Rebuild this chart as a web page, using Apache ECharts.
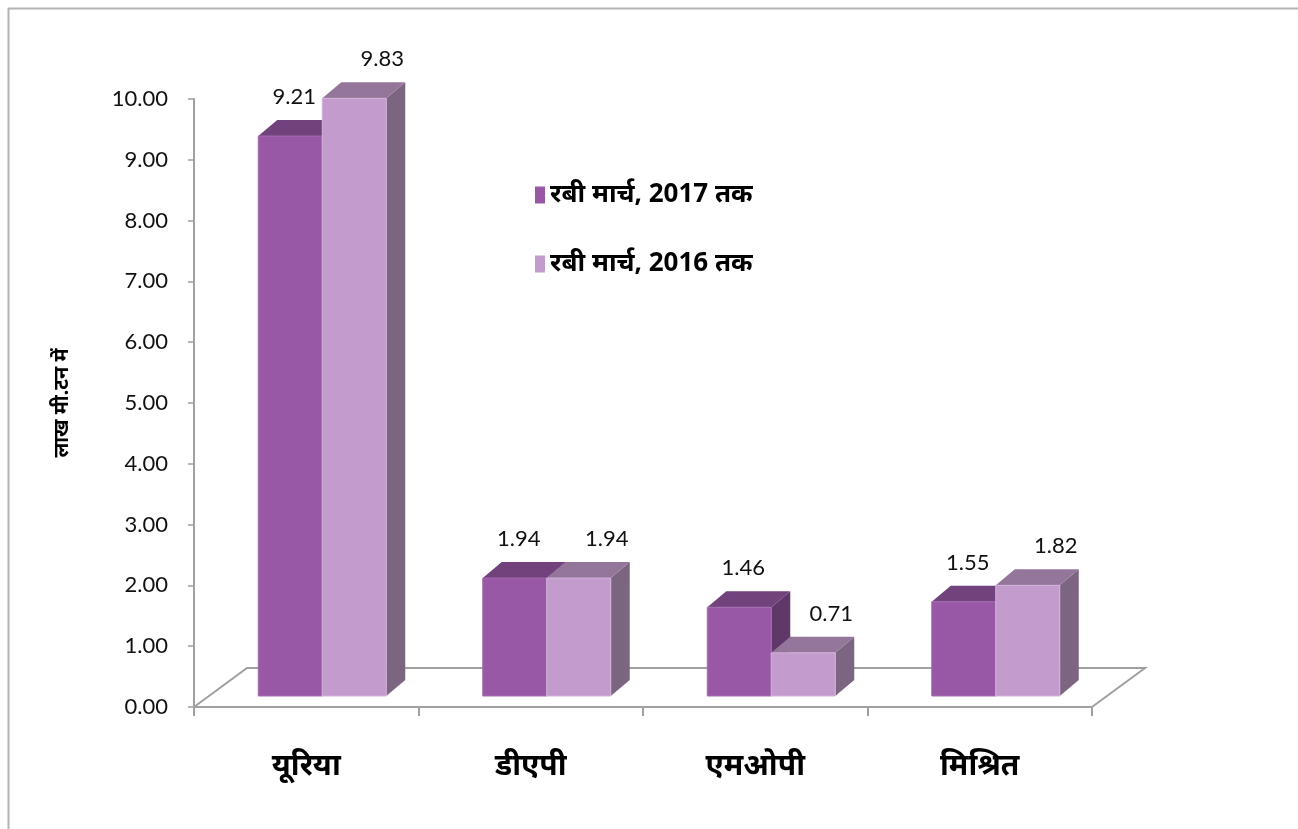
<!DOCTYPE html>
<html>
<head>
<meta charset="utf-8">
<script src="https://cdn.jsdelivr.net/npm/echarts@6/dist/echarts.min.js"></script>
<style>
html,body{margin:0;padding:0;background:#fff;}
#chart{width:1298px;height:829px;}
</style>
</head>
<body>
<div id="chart"></div>
<script>
// ---- data ----
var categories = ['यूरिया', 'डीएपी', 'एमओपी', 'मिश्रित'];
var seriesNames = ['रबी मार्च, 2017 तक', 'रबी मार्च, 2016 तक'];
var values2017 = [9.21, 1.94, 1.46, 1.55];
var values2016 = [9.83, 1.94, 0.71, 1.82];
var yTicks = [0, 1, 2, 3, 4, 5, 6, 7, 8, 9, 10];
var yAxisName = 'लाख मी.टन में';

// ---- styles ----
var palettes = [
  {front: '#9858a5', top: '#71427c', side: '#5f3869', edge: '#a46bb0', lblDx: 4},
  {front: '#c49bcd', top: '#94769b', side: '#7c6581', edge: '#d3b3da', lblDx: 28}
];
var GRID = {left: 194, top: 99, width: 898, height: 608};
var DEPTH_DX = 19, DEPTH_DY = -16, LIFT = 11;
var numFont = 'Lato, "Noto Sans", sans-serif';
var devFont = '"Noto Sans", "Lato", sans-serif';

function makeRender(idx) {
  var p = palettes[idx];
  return function (params, api) {
    var cat = api.value(0), v = api.value(1);
    var base = api.coord([cat, 0]);
    var top = api.coord([cat, v]);
    var bw = api.size([1, 0])[0];
    var barW = bw * 64 / 224.5;
    var x0 = base[0] - bw / 2 + bw * 64.25 / 224.5 + idx * barW;
    var yb = base[1] - LIFT, yt = top[1] - LIFT;
    var dx = DEPTH_DX, dy = DEPTH_DY;
    var x1 = x0 + barW;
    return {
      type: 'group',
      children: [
        {type: 'polygon', shape: {points: [[x1, yb], [x1 + dx, yb + dy], [x1 + dx, yt + dy], [x1, yt]]},
          style: {fill: p.side}},
        {type: 'polygon', shape: {points: [[x0, yt], [x0 + dx, yt + dy], [x1 + dx, yt + dy], [x1, yt]]},
          style: {fill: p.top}},
        {type: 'rect', shape: {x: x0, y: yt, width: barW, height: yb - yt},
          style: {fill: p.front, stroke: p.edge, lineWidth: 1}},
        {type: 'text', style: {text: v.toFixed(2), x: x0 + barW / 2 + p.lblDx, y: yt - 39,
          align: 'center', verticalAlign: 'middle', fontSize: 22, fontFamily: numFont, fill: '#111'}}
      ]
    };
  };
}

function seriesData(vals) {
  return vals.map(function (v, i) { return [i, v]; });
}

var chart = echarts.init(document.getElementById('chart'), null, {renderer: 'canvas'});

var gL = GRID.left, gB = GRID.top + GRID.height;
var floorDx = 53, floorDy = -39;

var option = {
  animation: false,
  backgroundColor: '#ffffff',
  grid: {left: GRID.left, top: GRID.top, width: GRID.width, height: GRID.height},
  legend: {
    orient: 'vertical',
    left: 530, top: 177,
    itemWidth: 10, itemHeight: 17, itemGap: 43,
    icon: 'rect',
    data: seriesNames,
    textStyle: {fontSize: 26, fontWeight: 'bold', color: '#000', fontFamily: devFont}
  },
  xAxis: {
    type: 'category',
    data: categories,
    axisLine: {show: true, lineStyle: {color: '#a0a0a0', width: 2}},
    axisTick: {show: true, length: 9, alignWithLabel: false, lineStyle: {color: '#a0a0a0', width: 2}},
    axisLabel: {margin: 44, fontSize: 30, fontWeight: 'bold', color: '#000', fontFamily: devFont},
    splitLine: {show: false}
  },
  yAxis: {
    type: 'value',
    min: yTicks[0], max: yTicks[yTicks.length - 1], interval: 1,
    name: yAxisName,
    nameLocation: 'middle',
    nameRotate: 90,
    nameGap: 122,
    nameTextStyle: {fontSize: 20, fontWeight: 'bold', color: '#000', fontFamily: devFont},
    axisLine: {show: true, lineStyle: {color: '#a0a0a0', width: 2}},
    axisTick: {show: true, length: 6, lineStyle: {color: '#a0a0a0', width: 1.5}},
    axisLabel: {margin: 26, fontSize: 22, color: '#111', fontFamily: numFont,
      formatter: function (v) { return v.toFixed(2); }},
    splitLine: {show: false}
  },
  graphic: [
    {type: 'line', shape: {x1: 8, y1: 8.5, x2: 1298, y2: 8.5}, style: {stroke: '#b4b4b4', lineWidth: 2}},
    {type: 'line', shape: {x1: 8.5, y1: 8, x2: 8.5, y2: 829}, style: {stroke: '#b4b4b4', lineWidth: 2}},
    {type: 'polyline', z: 0,
      shape: {points: [[gL, gB], [gL + floorDx, gB + floorDy], [gL + GRID.width + floorDx, gB + floorDy], [gL + GRID.width, gB]]},
      style: {stroke: '#a0a0a0', lineWidth: 2, fill: null}}
  ],
  series: [
    {name: seriesNames[0], type: 'custom', renderItem: makeRender(0), data: seriesData(values2017),
      itemStyle: {color: palettes[0].front}, z: 3},
    {name: seriesNames[1], type: 'custom', renderItem: makeRender(1), data: seriesData(values2016),
      itemStyle: {color: palettes[1].front}, z: 4}
  ]
};
chart.setOption(option);
</script>
</body>
</html>
